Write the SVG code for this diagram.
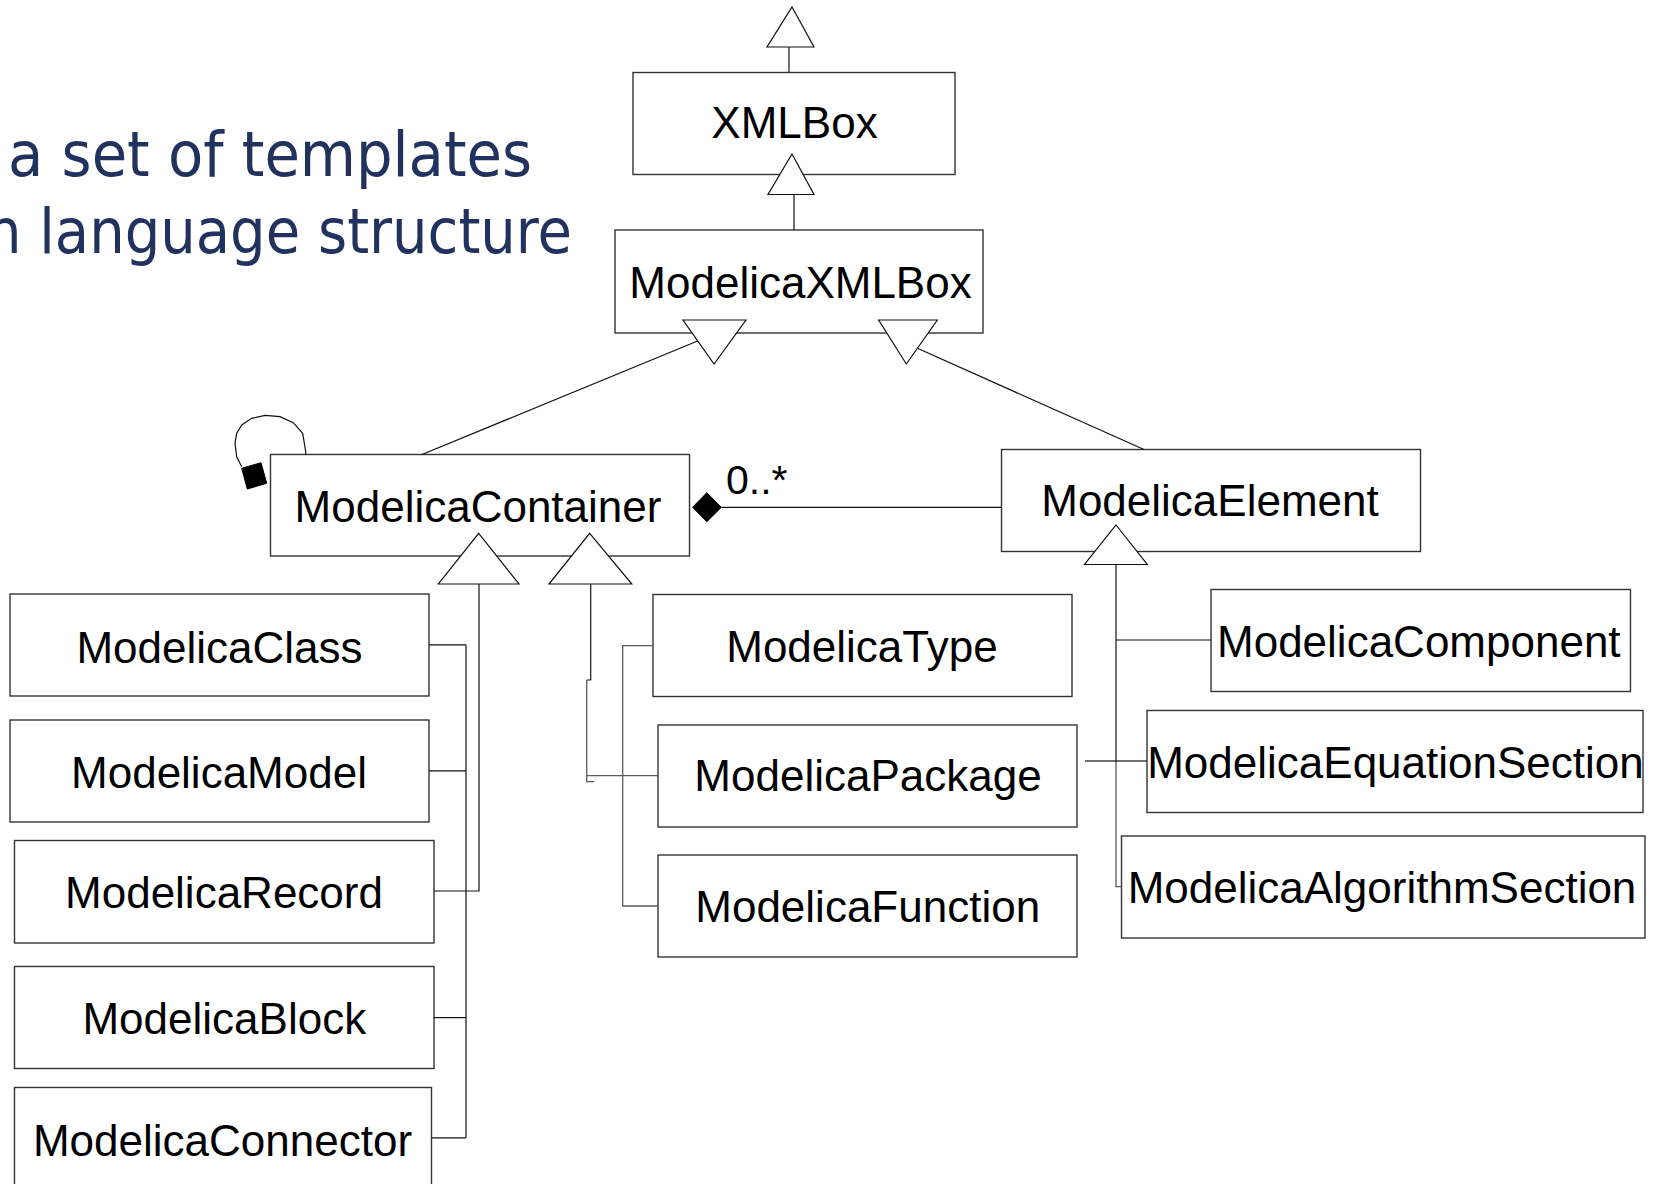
<svg xmlns="http://www.w3.org/2000/svg" width="1658" height="1184" viewBox="0 0 1658 1184">
  <style>
    .box { fill: #ffffff; stroke: #333333; stroke-width: 1.4; }
    .lbl { font-family: "Liberation Sans", Arial, sans-serif; font-size: 44px; fill: #000000; text-anchor: middle; }
    .title { font-family: "DejaVu Sans Condensed", "DejaVu Sans", sans-serif; font-size: 62px; fill: #22325e; }
    .wire { fill: none; stroke: #111111; stroke-width: 1.2; }
    .wire-g { fill: none; stroke: #5a5a5a; stroke-width: 1.3; }
    .tri { fill: #ffffff; stroke: #111111; stroke-width: 1.2; stroke-linejoin: miter; }
    .solid { fill: #000000; stroke: #000000; stroke-width: 1; }
    .mult { font-family: "Liberation Sans", Arial, sans-serif; font-size: 41px; fill: #000000; }
  </style>

  <rect width="1658" height="1184" fill="#ffffff"/>

  <!-- slide heading fragments (run past the left edge) -->
  <text class="title" x="8" y="176" textLength="524" lengthAdjust="spacingAndGlyphs">a set of templates</text>
  <text class="title" x="-14" y="253" textLength="586" lengthAdjust="spacingAndGlyphs">n language structure</text>

  <!-- class nodes -->
  <g id="XMLBox">
    <rect class="box" x="633" y="72.5" width="322" height="102"/>
    <text class="lbl" x="794.5" y="138">XMLBox</text>
  </g>
  <g id="ModelicaXMLBox">
    <rect class="box" x="615" y="230" width="368" height="103"/>
    <text class="lbl" x="800.5" y="298">ModelicaXMLBox</text>
  </g>
  <g id="ModelicaContainer">
    <rect class="box" x="270.5" y="454.5" width="419" height="101.5"/>
    <text class="lbl" x="478" y="521.5">ModelicaContainer</text>
  </g>
  <g id="ModelicaElement">
    <rect class="box" x="1001.5" y="449.5" width="419" height="102"/>
    <text class="lbl" x="1210" y="516">ModelicaElement</text>
  </g>
  <g id="ModelicaClass">
    <rect class="box" x="10" y="594" width="419" height="102"/>
    <text class="lbl" x="219.5" y="662.5">ModelicaClass</text>
  </g>
  <g id="ModelicaModel">
    <rect class="box" x="10" y="720" width="419" height="102"/>
    <text class="lbl" x="219" y="787.5">ModelicaModel</text>
  </g>
  <g id="ModelicaRecord">
    <rect class="box" x="14.5" y="840.5" width="419.5" height="102.5"/>
    <text class="lbl" x="224" y="908">ModelicaRecord</text>
  </g>
  <g id="ModelicaBlock">
    <rect class="box" x="14.5" y="966.5" width="419.5" height="102"/>
    <text class="lbl" x="224.3" y="1033.5">ModelicaBlock</text>
  </g>
  <g id="ModelicaConnector">
    <rect class="box" x="14.5" y="1087.5" width="417" height="112"/>
    <text class="lbl" x="222.5" y="1156">ModelicaConnector</text>
  </g>
  <g id="ModelicaType">
    <rect class="box" x="653" y="594.5" width="419" height="102"/>
    <text class="lbl" x="862" y="661.7">ModelicaType</text>
  </g>
  <g id="ModelicaPackage">
    <rect class="box" x="658" y="725" width="419" height="102"/>
    <text class="lbl" x="868" y="790.7">ModelicaPackage</text>
  </g>
  <g id="ModelicaFunction">
    <rect class="box" x="658" y="855" width="419" height="102"/>
    <text class="lbl" x="867.7" y="921.7">ModelicaFunction</text>
  </g>
  <g id="ModelicaComponent">
    <rect class="box" x="1211" y="589.5" width="419.5" height="102"/>
    <text class="lbl" x="1418.8" y="656.7">ModelicaComponent</text>
  </g>
  <g id="ModelicaEquationSection">
    <rect class="box" x="1147" y="710.5" width="496" height="102"/>
    <text class="lbl" x="1395.5" y="777.7">ModelicaEquationSection</text>
  </g>
  <g id="ModelicaAlgorithmSection">
    <rect class="box" x="1121.5" y="836" width="523.5" height="102"/>
    <text class="lbl" x="1382" y="903.3">ModelicaAlgorithmSection</text>
  </g>

  <!-- connectors, drawn over the boxes so the hollow heads overlap them -->
  <g id="connectors">
    <!-- XMLBox -> parent (out of view) -->
    <line class="wire" x1="789" y1="47" x2="789" y2="72.5"/>
    <polygon class="tri" points="792,7 814,47 767,47"/>

    <!-- ModelicaXMLBox -> XMLBox -->
    <line class="wire" x1="794" y1="194" x2="794" y2="230"/>
    <polygon class="tri" points="792,154 814,194.5 768,194.5"/>

    <!-- ModelicaContainer / ModelicaElement -> ModelicaXMLBox -->
    <line class="wire" x1="697.6" y1="341" x2="422" y2="454.5"/>
    <line class="wire" x1="917.4" y1="348.3" x2="1144" y2="449.5"/>
    <polygon class="tri" points="683,320 746,320 714,364"/>
    <polygon class="tri" points="878.7,320 937.3,320 906.3,364"/>

    <!-- self composition of ModelicaContainer -->
    <polyline class="wire" points="305.7,454.5 305.7,451.7 302.7,433.3 293.3,422.7 280,416.7 265,415.3 251.7,418.3 241.7,425 236.7,433.3 235,443.3 236.7,456.7 241.7,466.7"/>
    <polygon class="solid" points="241.7,468.3 261,462.7 266.7,483.3 247.3,489"/>

    <!-- ModelicaContainer <>- ModelicaElement -->
    <line class="wire" x1="721.3" y1="507.3" x2="1001.5" y2="507.3"/>
    <polygon class="solid" points="692.6,507.3 706.8,492.7 721.3,507.3 706.8,521.7"/>
    <text class="mult" x="726" y="494">0..*</text>

    <!-- left tree: class kinds -> ModelicaContainer -->
    <polyline class="wire" points="479,584 479,891 434,891"/>
    <line class="wire" x1="466" y1="644.8" x2="466" y2="1137.8"/>
    <line class="wire" x1="429" y1="644.8" x2="466" y2="644.8"/>
    <line class="wire" x1="429" y1="770.9" x2="466" y2="770.9"/>
    <line class="wire" x1="434" y1="1017.6" x2="466" y2="1017.6"/>
    <line class="wire" x1="431.5" y1="1137.8" x2="466" y2="1137.8"/>
    <polygon class="tri" points="478.7,533.3 519,584 438.4,584"/>

    <!-- middle tree: type / package / function -> ModelicaContainer -->
    <polyline class="wire" points="590.7,584 590.7,680 586.7,680"/>
    <polyline class="wire-g" points="586.7,680 586.7,781.7 594.3,781.7"/>
    <line class="wire-g" x1="586.7" y1="775.7" x2="658" y2="775.7"/>
    <polyline class="wire-g" points="653,645.7 622.7,645.7 622.7,906 658,906"/>
    <polygon class="tri" points="589.7,533.3 631.8,584 549,584"/>

    <!-- right tree: element kinds -> ModelicaElement -->
    <line class="wire" x1="1116" y1="564.5" x2="1116" y2="761" stroke-width="1.8"/>
    <polyline class="wire-g" points="1116,761 1116,886.7 1121.5,886.7"/>
    <line class="wire" x1="1116" y1="640" x2="1211" y2="640"/>
    <line class="wire" x1="1085" y1="761" x2="1116" y2="761" stroke-width="2.4"/>
    <line class="wire" x1="1116" y1="761" x2="1147" y2="761"/>
    <polygon class="tri" points="1116,525 1147.3,564.5 1084.5,564.5"/>
  </g>
</svg>
